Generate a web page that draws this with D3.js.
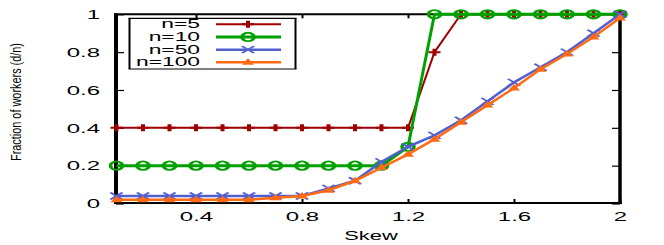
<!DOCTYPE html>
<html>
<head>
<meta charset="utf-8">
<script src="https://cdn.jsdelivr.net/npm/d3@7"></script>
<style>
  body { margin: 0; background: #fff; }
  svg { display: block; }
  text { font-family: "Liberation Sans", Arial, sans-serif; fill: #000; }
</style>
</head>
<body>
<svg id="chart" width="664" height="245"></svg>
<script>
// data
const skew = [0.1, 0.2, 0.3, 0.4, 0.5, 0.6, 0.7, 0.8, 0.9, 1.0,
              1.1, 1.2, 1.3, 1.4, 1.5, 1.6, 1.7, 1.8, 1.9, 2.0];
const n5   = [0.4, 0.4, 0.4, 0.4, 0.4, 0.4, 0.4, 0.4, 0.4, 0.4,
              0.4, 0.4, 0.8, 1, 1, 1, 1, 1, 1, 1];
const n10  = [0.2, 0.2, 0.2, 0.2, 0.2, 0.2, 0.2, 0.2, 0.2, 0.2,
              0.2, 0.3, 1, 1, 1, 1, 1, 1, 1, 1];
const n50  = [0.04, 0.04, 0.04, 0.04, 0.04, 0.04, 0.04, 0.04, 0.08, 0.12,
              0.22, 0.3, 0.36, 0.44, 0.54, 0.64, 0.72, 0.8, 0.9, 1.0];
const n100 = [0.02, 0.02, 0.02, 0.02, 0.02, 0.02, 0.03, 0.04, 0.07, 0.12,
              0.19, 0.26, 0.34, 0.43, 0.52, 0.61, 0.71, 0.79, 0.88, 0.98];

const xTicks = [0.4, 0.8, 1.2, 1.6, 2];
const yTicks = [0, 0.2, 0.4, 0.6, 0.8, 1];

const series = [
  { name: 'n=5',   values: n5,   color: '#a00000', marker: 'plus',     lw: 2 },
  { name: 'n=10',  values: n10,  color: '#00a000', marker: 'circle',   lw: 3 },
  { name: 'n=50',  values: n50,  color: '#5060d0', marker: 'cross',    lw: 2.5 },
  { name: 'n=100', values: n100, color: '#ff6a13', marker: 'triangle', lw: 2.5 }
];

const svg = d3.select('#chart');

const x = d3.scaleLinear().domain([0.1, 2]).range([116.5, 620]);
const y = d3.scaleLinear().domain([0, 1]).range([203.5, 14.3]);

// the picture is stretched 2x horizontally, so text and markers are drawn with scale(2,1)
function styleTicks(g, width) {
  g.select('.domain').remove();
  g.selectAll('.tick line').attr('stroke', '#000').attr('stroke-width', width);
}

svg.append('g')
  .attr('transform', 'translate(116,0)')
  .call(d3.axisLeft(y).tickValues(yTicks).tickSizeInner(-8).tickSizeOuter(0).tickFormat(d => String(d)))
  .call(g => styleTicks(g, 1.2))
  .call(g => g.selectAll('.tick text')
    .attr('x', -8).attr('dy', '0.36em')
    .attr('transform', 'scale(2,1)')
    .attr('font-size', 12).attr('font-family', null).attr('fill', '#000'));

svg.append('g')
  .attr('transform', 'translate(620,0)')
  .call(d3.axisRight(y).tickValues(yTicks).tickSizeInner(-8).tickSizeOuter(0).tickFormat(''))
  .call(g => styleTicks(g, 1.2));

svg.append('g')
  .attr('transform', 'translate(0,203)')
  .call(d3.axisBottom(x).tickValues(xTicks).tickSizeInner(-4).tickSizeOuter(0).tickFormat(d => String(d)))
  .call(g => styleTicks(g, 2))
  .call(g => g.selectAll('.tick text')
    .attr('y', 18).attr('dy', null)
    .attr('transform', 'scale(2,1)')
    .attr('font-size', 12).attr('font-family', null).attr('fill', '#000'));

svg.append('g')
  .attr('transform', 'translate(0,14.3)')
  .call(d3.axisTop(x).tickValues(xTicks).tickSizeInner(-4).tickSizeOuter(0).tickFormat(''))
  .call(g => styleTicks(g, 2));

// plot border
const border = [
  [116, 13.3, 116, 204, 4],
  [620, 13.3, 620, 204, 3.5],
  [114, 14.3, 622, 14.3, 2],
  [114, 203, 622, 203, 2]
];
svg.append('g').selectAll('line').data(border).join('line')
  .attr('x1', d => d[0]).attr('y1', d => d[1])
  .attr('x2', d => d[2]).attr('y2', d => d[3])
  .attr('stroke', '#000').attr('stroke-width', d => d[4]);

// axis titles
svg.append('text')
  .attr('transform', 'translate(371,240) scale(1.75,1)')
  .attr('text-anchor', 'middle')
  .attr('font-size', 12.5)
  .text('Skew');

svg.append('text')
  .attr('transform', 'translate(21,102) rotate(-90)')
  .attr('text-anchor', 'middle')
  .attr('font-size', 14)
  .attr('textLength', 118)
  .attr('lengthAdjust', 'spacingAndGlyphs')
  .text('Fraction of workers (d/n)');

function drawMarker(sel, s) {
  const g = sel.append('g').attr('class', 'mk');
  if (s.marker === 'plus') {
    g.append('path').attr('d', 'M-3,0H3M0,-3.5V3.5')
      .attr('fill', 'none').attr('stroke', s.color).attr('stroke-width', 2);
  } else if (s.marker === 'circle') {
    g.append('ellipse').attr('rx', 3).attr('ry', 4.2)
      .attr('fill', 'none').attr('stroke', s.color).attr('stroke-width', 1.8);
  } else if (s.marker === 'cross') {
    g.append('path').attr('d', 'M-3,-3.5L3,3.5M-3,3.5L3,-3.5')
      .attr('fill', 'none').attr('stroke', s.color).attr('stroke-width', 1.4);
  } else {
    g.append('path').attr('d', 'M0,-4L3,2.5L-3,2.5Z').attr('fill', s.color);
  }
}

const line = d3.line().x((d, i) => x(skew[i])).y(d => y(d));

series.forEach(s => {
  const g = svg.append('g');
  g.append('path')
    .attr('d', line(s.values))
    .attr('fill', 'none')
    .attr('stroke', s.color)
    .attr('stroke-width', s.lw)
    .attr('stroke-linejoin', 'round');
  g.selectAll('g.pt')
    .data(s.values)
    .join('g')
    .attr('class', 'pt')
    .attr('transform', (d, i) => `translate(${x(skew[i])},${y(d)}) scale(2,1)`)
    .each(function() { drawMarker(d3.select(this), s); });
});

// legend
const legend = svg.append('g');
const box = [
  [129.5, 18.3, 129.5, 69, 2],
  [295.5, 18.3, 295.5, 69, 2],
  [128.5, 18.3, 296.5, 18.3, 1.2],
  [128.5, 69, 296.5, 69, 1.2]
];
legend.selectAll('line.box').data(box).join('line')
  .attr('class', 'box')
  .attr('x1', d => d[0]).attr('y1', d => d[1])
  .attr('x2', d => d[2]).attr('y2', d => d[3])
  .attr('stroke', '#000').attr('stroke-width', d => d[4]);

const rowY = d3.scaleLinear().domain([0, 3]).range([24.3, 62.3]);
series.forEach((s, i) => {
  const ry = rowY(i);
  legend.append('text')
    .attr('transform', `translate(200,${ry + 4}) scale(1.9,1)`)
    .attr('text-anchor', 'end')
    .attr('font-size', 12)
    .text(s.name);
  legend.append('line')
    .attr('x1', 216).attr('x2', 281).attr('y1', ry).attr('y2', ry)
    .attr('stroke', s.color).attr('stroke-width', s.lw);
  legend.append('g')
    .attr('transform', `translate(248,${ry}) scale(2,1)`)
    .call(sel => drawMarker(sel, s));
});
</script>
</body>
</html>
